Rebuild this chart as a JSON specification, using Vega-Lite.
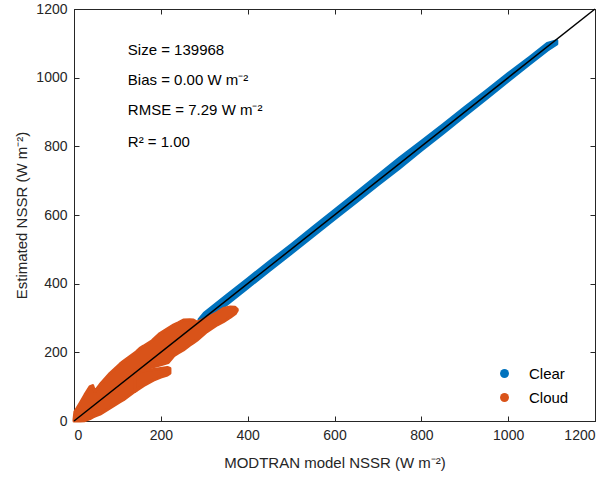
{
  "$schema": "https://vega.github.io/schema/vega-lite/v6.json",
  "width": 521,
  "height": 412,
  "autosize": {"type": "none"},
  "padding": {"left": 74, "top": 9, "right": 16, "bottom": 60},
  "background": "white",
  "config": {
    "font": "Liberation Sans",
    "view": {"stroke": "#262626", "strokeWidth": 1},
    "axis": {
      "grid": false,
      "domainColor": "#262626",
      "tickColor": "#262626",
      "labelColor": "#262626",
      "titleColor": "#262626",
      "labelFont": "Liberation Sans",
      "titleFont": "Liberation Sans",
      "labelFontSize": 14,
      "titleFontSize": 15,
      "titleFontWeight": "normal",
      "tickSize": -5,
      "labelPadding": 12,
      "format": "d"
    }
  },
  "layer": [
    {
      "data": {"values": [
        {"cls": "Clear", "X": 288, "lo": 286, "hi": 296},
        {"cls": "Clear", "X": 300, "lo": 290, "hi": 314},
        {"cls": "Clear", "X": 350, "lo": 338, "hi": 364},
        {"cls": "Clear", "X": 400, "lo": 388, "hi": 414},
        {"cls": "Clear", "X": 450, "lo": 438, "hi": 464},
        {"cls": "Clear", "X": 500, "lo": 488, "hi": 513},
        {"cls": "Clear", "X": 550, "lo": 538, "hi": 564},
        {"cls": "Clear", "X": 600, "lo": 588, "hi": 614},
        {"cls": "Clear", "X": 650, "lo": 638, "hi": 664},
        {"cls": "Clear", "X": 700, "lo": 688, "hi": 715},
        {"cls": "Clear", "X": 750, "lo": 737, "hi": 766},
        {"cls": "Clear", "X": 800, "lo": 788, "hi": 814},
        {"cls": "Clear", "X": 850, "lo": 838, "hi": 863},
        {"cls": "Clear", "X": 900, "lo": 889, "hi": 913},
        {"cls": "Clear", "X": 950, "lo": 939, "hi": 962},
        {"cls": "Clear", "X": 1000, "lo": 990, "hi": 1012},
        {"cls": "Clear", "X": 1050, "lo": 1040, "hi": 1060},
        {"cls": "Clear", "X": 1090, "lo": 1080, "hi": 1100},
        {"cls": "Clear", "X": 1112, "lo": 1098, "hi": 1108}
      ]},
      "mark": {"type": "area", "strokeWidth": 3, "strokeJoin": "round"},
      "encoding": {
        "x": {"field": "X", "type": "quantitative",
          "scale": {"domain": [0, 1200], "nice": false, "zero": false},
          "axis": {"orient": "bottom", "title": "MODTRAN model NSSR (W m⁻²)", "values": [0, 200, 400, 600, 800, 1000, 1200], "titlePadding": 13}},
        "y": {"field": "lo", "type": "quantitative",
          "scale": {"domain": [0, 1200], "nice": false, "zero": false},
          "axis": {"orient": "left", "title": "Estimated NSSR (W m⁻²)", "values": [0, 200, 400, 600, 800, 1000, 1200], "titlePadding": 6}},
        "y2": {"field": "hi"},
        "color": {"field": "cls", "type": "nominal",
          "scale": {"domain": ["Clear", "Cloud"], "range": ["#0072BD", "#D95319"]},
          "legend": {"title": null, "orient": "none", "legendX": 423, "legendY": 357, "symbolType": "circle", "symbolSize": 80, "labelFontSize": 15, "labelFont": "Liberation Sans", "labelColor": "#000000", "rowPadding": 8, "labelOffset": 17, "symbolStrokeWidth": 0}},
        "stroke": {"field": "cls", "type": "nominal",
          "scale": {"domain": ["Clear", "Cloud"], "range": ["#0072BD", "#D95319"]}, "legend": null}
      }
    },
    {
      "data": {"values": [
        {"cls": "Cloud", "X": 0, "lo": 0, "hi": 4},
        {"cls": "Cloud", "X": 2, "lo": 0, "hi": 27},
        {"cls": "Cloud", "X": 14, "lo": 0, "hi": 52},
        {"cls": "Cloud", "X": 25, "lo": 1, "hi": 76},
        {"cls": "Cloud", "X": 37, "lo": 7, "hi": 100},
        {"cls": "Cloud", "X": 43, "lo": 11, "hi": 103},
        {"cls": "Cloud", "X": 48, "lo": 14, "hi": 86},
        {"cls": "Cloud", "X": 60, "lo": 20, "hi": 106},
        {"cls": "Cloud", "X": 83, "lo": 38, "hi": 139},
        {"cls": "Cloud", "X": 106, "lo": 56, "hi": 166},
        {"cls": "Cloud", "X": 114, "lo": 62, "hi": 174},
        {"cls": "Cloud", "X": 144, "lo": 90, "hi": 202},
        {"cls": "Cloud", "X": 152, "lo": 110, "hi": 212},
        {"cls": "Cloud", "X": 160, "lo": 149, "hi": 218},
        {"cls": "Cloud", "X": 180, "lo": 157, "hi": 234},
        {"cls": "Cloud", "X": 198, "lo": 163, "hi": 255},
        {"cls": "Cloud", "X": 217, "lo": 170, "hi": 270},
        {"cls": "Cloud", "X": 230, "lo": 190, "hi": 280},
        {"cls": "Cloud", "X": 240, "lo": 198, "hi": 286},
        {"cls": "Cloud", "X": 252, "lo": 207, "hi": 294},
        {"cls": "Cloud", "X": 267, "lo": 221, "hi": 295},
        {"cls": "Cloud", "X": 275, "lo": 228, "hi": 294},
        {"cls": "Cloud", "X": 283, "lo": 235, "hi": 288},
        {"cls": "Cloud", "X": 306, "lo": 260, "hi": 300},
        {"cls": "Cloud", "X": 330, "lo": 280, "hi": 316},
        {"cls": "Cloud", "X": 344, "lo": 289, "hi": 328},
        {"cls": "Cloud", "X": 360, "lo": 302, "hi": 332},
        {"cls": "Cloud", "X": 371, "lo": 312, "hi": 331},
        {"cls": "Cloud", "X": 376, "lo": 322, "hi": 325},
        {"cls": "Cloud", "X": 140, "lo": 86, "hi": 150, "part": "prong"},
        {"cls": "Cloud", "X": 160, "lo": 103, "hi": 146, "part": "prong"},
        {"cls": "Cloud", "X": 183, "lo": 119, "hi": 150, "part": "prong"},
        {"cls": "Cloud", "X": 200, "lo": 128, "hi": 153, "part": "prong"},
        {"cls": "Cloud", "X": 215, "lo": 134, "hi": 156, "part": "prong"},
        {"cls": "Cloud", "X": 221, "lo": 139, "hi": 153, "part": "prong"}
      ]},
      "mark": {"type": "area", "strokeWidth": 3, "strokeJoin": "round"},
      "encoding": {
        "x": {"field": "X", "type": "quantitative", "axis": null},
        "y": {"field": "lo", "type": "quantitative", "axis": null},
        "y2": {"field": "hi"},
        "detail": {"field": "part"},
        "color": {"field": "cls", "type": "nominal"},
        "stroke": {"field": "cls", "type": "nominal", "legend": null}
      }
    },
    {
      "data": {"values": [{"X": 0, "Y": 0}, {"X": 1200, "Y": 1200}]},
      "mark": {"type": "line", "color": "#000000", "strokeWidth": 1.5},
      "encoding": {
        "x": {"field": "X", "type": "quantitative",
          "axis": {"orient": "top", "labels": false, "title": null, "domain": false, "values": [0, 200, 400, 600, 800, 1000, 1200]}},
        "y": {"field": "Y", "type": "quantitative",
          "axis": {"orient": "right", "labels": false, "title": null, "domain": false, "values": [0, 200, 400, 600, 800, 1000, 1200]}}
      }
    },
    {
      "data": {"values": [
        {"label": "Size = 139968", "X": 124, "Y": 1081},
        {"label": "Bias = 0.00 W m⁻²", "X": 124, "Y": 993},
        {"label": "RMSE = 7.29 W m⁻²", "X": 124, "Y": 906},
        {"label": "R² = 1.00", "X": 124, "Y": 813}
      ]},
      "mark": {"type": "text", "align": "left", "baseline": "middle", "fontSize": 15, "font": "Liberation Sans", "color": "#000000"},
      "encoding": {
        "x": {"field": "X", "type": "quantitative", "axis": null},
        "y": {"field": "Y", "type": "quantitative", "axis": null},
        "text": {"field": "label"}
      }
    }
  ],
  "resolve": {"axis": {"x": "independent", "y": "independent"}}
}
